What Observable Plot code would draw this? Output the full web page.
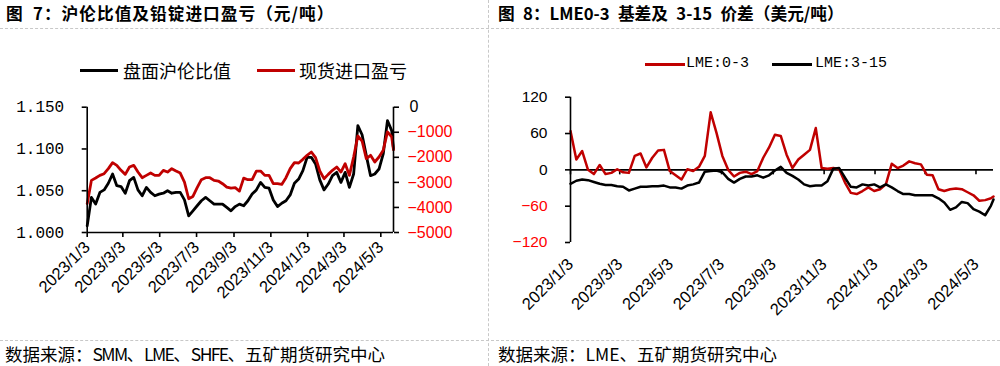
<!DOCTYPE html>
<html><head><meta charset="utf-8">
<script src="https://cdn.jsdelivr.net/npm/d3@7"></script>
<script src="https://cdn.jsdelivr.net/npm/@observablehq/plot@0.6"></script>
<style>
body{margin:0;background:#fff;}
#root{position:relative;width:1000px;height:366px;overflow:hidden;background:#fff;font-family:"Noto Sans CJK SC",sans-serif;color:#000;}
.abs{position:absolute;white-space:nowrap;line-height:1;}
.title{font-weight:bold;font-size:16.7px;}
.src{font-size:17.5px;}
.lat{letter-spacing:-1.6px;}
.hd{position:absolute;height:0;border-top:1px dashed #c8c8c8;}
.vd{position:absolute;width:0;border-left:1px dashed #c8c8c8;}
.sw{position:absolute;height:3px;}
.lt{position:absolute;white-space:nowrap;line-height:1;}
.chart{position:absolute;}
</style></head>
<body><div id="root">
<div class="abs title" style="left:6px;top:5px;letter-spacing:1px">图&ensp;7：沪伦比值及铅锭进口盈亏（元/吨）</div>
<div class="abs title" style="left:498px;top:5px">图&ensp;8：LME0-3&ensp;基差及&ensp;3-15&ensp;价差（美元/吨）</div>
<div class="hd" style="left:0;top:28px;width:1000px"></div>
<div class="hd" style="left:0;top:340px;width:1000px"></div>
<div class="vd" style="left:488px;top:0;height:366px"></div>
<div id="c1" class="chart" style="left:0;top:40px;width:488px;height:295px"></div>
<div id="c2" class="chart" style="left:488px;top:40px;width:512px;height:295px"></div>
<div class="sw" style="left:80px;top:69px;width:38px;background:#000"></div>
<div class="lt" style="left:123px;top:61px;font-size:18px">盘面沪伦比值</div>
<div class="sw" style="left:257px;top:69px;width:38px;background:#c00000"></div>
<div class="lt" style="left:299px;top:61px;font-size:18px">现货进口盈亏</div>
<div class="sw" style="left:645px;top:63px;width:40px;background:#c00000"></div>
<div class="lt" style="left:686px;top:56px;font-size:15px;font-family:'Liberation Mono',monospace">LME:0-3</div>
<div class="sw" style="left:772px;top:63px;width:40px;background:#000"></div>
<div class="lt" style="left:815px;top:56px;font-size:15px;font-family:'Liberation Mono',monospace">LME:3-15</div>
<div class="abs src" style="left:5px;top:345px">数据来源：<span class="lat">SMM</span>、<span class="lat">LME</span>、<span class="lat">SHFE</span>、五矿期货研究中心</div>
<div class="abs src" style="left:498px;top:345px">数据来源：LME、五矿期货研究中心</div>
</div>
<script>
// weekly observation dates (plus last observation)
const dates = [
"2023-01-03","2023-01-10","2023-01-17","2023-01-24","2023-01-31","2023-02-07","2023-02-14","2023-02-21","2023-02-28","2023-03-07",
"2023-03-14","2023-03-21","2023-03-28","2023-04-04","2023-04-11","2023-04-18","2023-04-25","2023-05-02","2023-05-09","2023-05-16",
"2023-05-23","2023-05-30","2023-06-06","2023-06-13","2023-06-20","2023-06-27","2023-07-04","2023-07-11","2023-07-18","2023-07-25",
"2023-08-01","2023-08-08","2023-08-15","2023-08-22","2023-08-29","2023-09-05","2023-09-12","2023-09-19","2023-09-26","2023-10-03",
"2023-10-10","2023-10-17","2023-10-24","2023-10-31","2023-11-07","2023-11-14","2023-11-21","2023-11-28","2023-12-05","2023-12-12",
"2023-12-19","2023-12-26","2024-01-02","2024-01-09","2024-01-16","2024-01-23","2024-01-30","2024-02-06","2024-02-13","2024-02-20",
"2024-02-27","2024-03-05","2024-03-12","2024-03-19","2024-03-26","2024-04-02","2024-04-09","2024-04-16","2024-04-23","2024-04-30",
"2024-05-07","2024-05-14","2024-05-21","2024-05-24"];
// 盘面沪伦比值
const shfeLmeRatio = [
1.008,1.042,1.034,1.048,1.051,1.059,1.070,1.056,1.055,1.047,
1.062,1.066,1.051,1.044,1.054,1.048,1.044,1.046,1.047,1.050,
1.047,1.048,1.048,1.039,1.020,1.026,1.032,1.038,1.042,1.038,
1.034,1.034,1.034,1.030,1.026,1.031,1.034,1.032,1.038,1.046,
1.051,1.060,1.054,1.053,1.039,1.031,1.035,1.038,1.045,1.059,
1.064,1.074,1.090,1.090,1.082,1.063,1.051,1.058,1.068,1.072,
1.060,1.072,1.054,1.070,1.128,1.117,1.092,1.068,1.070,1.076,
1.094,1.134,1.122,1.100];
// 现货进口盈亏 (元/吨)
const importProfit = [
-3850,-2920,-2827,-2720,-2653,-2453,-2213,-2320,-2520,-2680,
-2387,-2320,-2587,-2813,-2720,-2627,-2720,-2720,-2520,-2587,
-2453,-2547,-2627,-2987,-3653,-3560,-3213,-2893,-2813,-2813,
-2920,-2947,-3053,-3187,-3227,-3213,-3347,-2830,-2893,-2893,
-2547,-2547,-2720,-2720,-3053,-3053,-3080,-2813,-2453,-2213,
-2227,-2080,-1920,-1787,-2013,-2547,-2853,-2680,-2520,-2387,
-2587,-2253,-2720,-1987,-1150,-1350,-2053,-1920,-2187,-1987,
-1720,-987,-1187,-1700];
// LME 0-3 (美元/吨)
const lme0to3 = [
64,17,31,0,-7,8,-7,-5,1,-4,
-5,23,27,4,20,32,33,-2,-9,-16,
1,-2,5,23,95,61,23,0,-11,-5,
-3,-7,-2,20,37,58,56,25,3,17,
25,33,69,3,2,3,1,-21,-38,-40,
-35,-29,-35,-32,-24,10,3,7,14,11,
9,-8,-9,-32,-35,-32,-31,-32,-37,-42,
-51,-50,-47,-44];
// LME 3-15 (美元/吨)
const lme3to15 = [
-23,-18,-16,-17,-20,-23,-25,-25,-27,-28,
-34,-31,-28,-28,-27,-27,-26,-29,-29,-31,
-26,-24,-21,-3,-2,-1,-4,-15,-21,-15,
-11,-11,-9,-13,-9,-1,5,-5,-10,-16,
-24,-27,-26,-26,-19,2,3,-13,-28,-29,
-24,-26,-24,-29,-24,-29,-35,-40,-40,-42,
-42,-42,-42,-47,-54,-66,-62,-53,-55,-65,
-69,-75,-59,-49];
const tickDates = ["2023-01-03","2023-03-03","2023-05-03","2023-07-03","2023-09-03","2023-11-03","2024-01-03","2024-03-03","2024-05-03"];
const ratioTicks = [1.000,1.050,1.100,1.150];
const profitTicks = [0,-1000,-2000,-3000,-4000,-5000];
const spreadTicksPos = [120,60,0];
const spreadTicksNeg = [-60,-120];

const parse = d3.utcParse("%Y-%m-%d");
const D = dates.map(parse);
const T = tickDates.map(parse);
const xDomain = [D[0], D[D.length-1]];
const fmtDate = d => `${d.getUTCFullYear()}/${d.getUTCMonth()+1}/${d.getUTCDate()}`;
const minus = "\u2212";
// secondary axis: profit -> ratio scale position
const p2r = p => 1.15 + p * 0.15 / 5000;
const r2p = r => Math.round((r - 1.15) * 5000 / 0.15);
const font = "'Liberation Sans', Arial, 'Noto Sans CJK SC', sans-serif";

const leftData = D.map((d, i) => ({date: d, ratio: shfeLmeRatio[i], profit: importProfit[i]}));
const rightData = D.map((d, i) => ({date: d, a: lme0to3[i], b: lme3to15[i]}));

const left = Plot.plot({
  width: 488, height: 295,
  marginLeft: 86.7, marginRight: 95, marginTop: 66.7, marginBottom: 103,
  x: {type: "utc", domain: xDomain, label: null},
  y: {domain: [1.0, 1.15], label: null},
  style: {fontFamily: font, fontSize: "16.5px", background: "transparent", color: "#000", overflow: "visible"},
  marks: [
    Plot.lineY(leftData, {x: "date", y: "ratio", stroke: "#000", strokeWidth: 2.8}),
    Plot.lineY(leftData, {x: "date", y: d => p2r(d.profit), stroke: "#c00000", strokeWidth: 2.8}),
    Plot.ruleY([1.0], {stroke: "#000", strokeWidth: 1.6}),
    Plot.ruleX([xDomain[0]], {y1: 1.0, y2: 1.15, stroke: "#000", strokeWidth: 1.6}),
    Plot.ruleX([xDomain[1]], {y1: 1.0, y2: 1.15, stroke: "#000", strokeWidth: 1.6}),
    Plot.axisY({anchor: "left", ticks: ratioTicks, tickFormat: d3.format(".3f"), tickSize: 5, tickPadding: 18,
      strokeWidth: 1.6, fontFamily: "'Liberation Mono', monospace", fontSize: 16, label: null}),
    Plot.axisY({anchor: "right", ticks: profitTicks.filter(p => p === 0).map(p2r), tickFormat: () => "0",
      tickSize: 5, tickPadding: 11, strokeWidth: 1.6, fill: "#000", fontSize: 16, label: null}),
    Plot.axisY({anchor: "right", ticks: profitTicks.filter(p => p < 0).map(p2r), tickFormat: r => minus + Math.abs(r2p(r)),
      tickSize: 5, tickPadding: 9, strokeWidth: 1.6, stroke: "#000", fill: "#ff0000", fontSize: 16, label: null}),
    Plot.axisX({ticks: T, tickFormat: fmtDate, tickRotate: -45, tickSize: 5, tickPadding: 7, strokeWidth: 1.6, label: null})
  ]
});
document.getElementById("c1").appendChild(left);

const right = Plot.plot({
  width: 512, height: 295,
  marginLeft: 82, marginRight: 7, marginTop: 56.7, marginBottom: 93,
  x: {type: "utc", domain: xDomain, label: null},
  y: {domain: [-120, 120], label: null},
  style: {fontFamily: font, fontSize: "16.5px", background: "transparent", color: "#000", overflow: "visible"},
  marks: [
    Plot.ruleY([0], {stroke: "#000", strokeWidth: 1.6}),
    Plot.ruleX(T, {y1: 0, y2: -8.3, stroke: "#000", strokeWidth: 1.6}),
    Plot.lineY(rightData, {x: "date", y: "a", stroke: "#c00000", strokeWidth: 2.5}),
    Plot.lineY(rightData, {x: "date", y: "b", stroke: "#000", strokeWidth: 2.5}),
    Plot.ruleX([xDomain[0]], {y1: -120, y2: 120, stroke: "#000", strokeWidth: 1.6}),
    Plot.axisY({anchor: "left", ticks: spreadTicksPos, tickSize: 5, tickPadding: 18, strokeWidth: 1.6,
      fontSize: 15.5, fill: "#000", label: null}),
    Plot.axisY({anchor: "left", ticks: spreadTicksNeg, tickFormat: d => minus + Math.abs(d), tickSize: 5, tickPadding: 18,
      strokeWidth: 1.6, stroke: "#000", fontSize: 15.5, fill: "#ff0000", label: null}),
    Plot.axisX({ticks: T, tickFormat: fmtDate, tickRotate: -45, tickSize: 0, tickPadding: 19, label: null})
  ]
});
document.getElementById("c2").appendChild(right);
</script>
</body></html>
